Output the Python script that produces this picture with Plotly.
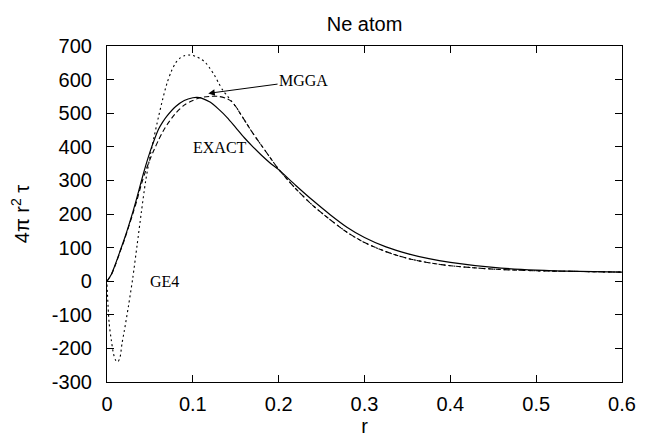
import plotly.graph_objects as go

# ---- data ----
r_exact = [0, 0.005, 0.01, 0.015, 0.02, 0.025, 0.03, 0.035, 0.04, 0.045, 0.05, 0.055,
           0.06, 0.065, 0.07, 0.08, 0.09, 0.1, 0.105, 0.11, 0.12, 0.13, 0.14, 0.15,
           0.16, 0.17, 0.18, 0.19, 0.2, 0.22, 0.24, 0.26, 0.28, 0.3, 0.325, 0.35,
           0.375, 0.4, 0.45, 0.5, 0.55, 0.6]
exact = [0, 20, 52, 88, 124, 163, 205, 250, 298, 343, 384, 420,
         452, 474, 492, 520, 538, 546, 547, 545, 533, 512, 487, 457,
         427, 400, 375, 352, 332, 285, 240, 198, 160, 130, 102, 82,
         67, 56, 41, 33, 29, 27]

r_mgga = [0, 0.005, 0.01, 0.015, 0.02, 0.025, 0.03, 0.035, 0.04, 0.045, 0.05, 0.055,
          0.06, 0.065, 0.07, 0.08, 0.09, 0.1, 0.11, 0.12, 0.13, 0.14, 0.145, 0.15,
          0.155, 0.16, 0.17, 0.18, 0.19, 0.2, 0.22, 0.24, 0.26, 0.28, 0.3, 0.325,
          0.35, 0.375, 0.4, 0.45, 0.5, 0.55, 0.6]
mgga = [0, 19, 50, 86, 121, 160, 200, 242, 288, 328, 362, 392,
        420, 445, 466, 500, 524, 538, 547, 550, 550, 543, 535, 520,
        500, 480, 440, 404, 368, 333, 275, 225, 183, 145, 115, 88,
        68, 55, 46, 36, 31, 29, 27]

r_ge4 = [0, 0.0025, 0.005, 0.0075, 0.01, 0.0125, 0.015, 0.0175, 0.02, 0.025, 0.03,
         0.035, 0.04, 0.045, 0.05, 0.055, 0.06, 0.065, 0.07, 0.075, 0.08, 0.085,
         0.09, 0.095, 0.1, 0.105, 0.11, 0.115, 0.12, 0.125, 0.13, 0.135, 0.14,
         0.145, 0.15, 0.155, 0.16, 0.17, 0.18, 0.19, 0.2, 0.22, 0.24, 0.26, 0.28,
         0.3, 0.325, 0.35, 0.375, 0.4, 0.45, 0.5, 0.55, 0.6]
ge4 = [-10, -125, -175, -215, -235, -240, -228, -185, -150, -74, 9,
       106, 205, 298, 370, 431, 489, 543, 590, 625, 650, 664,
       671, 673, 672, 667, 660, 650, 633, 614, 590, 568, 552,
       536, 520, 500, 480, 440, 404, 368, 333, 275, 225, 183, 145,
       115, 88, 68, 55, 46, 36, 31, 29, 27]

x_ticks = [0, 0.1, 0.2, 0.3, 0.4, 0.5, 0.6]
x_ticktext = ["0", "0.1", "0.2", "0.3", "0.4", "0.5", "0.6"]
y_ticks = [-300, -200, -100, 0, 100, 200, 300, 400, 500, 600, 700]
y_ticktext = ["-300", "-200", "-100", "0", "100", "200", "300", "400", "500", "600", "700"]

fig = go.Figure()
fig.add_trace(go.Scatter(x=r_exact, y=exact, mode="lines", name="EXACT",
                         line=dict(color="black", width=1.2, shape="spline", smoothing=0.8)))
fig.add_trace(go.Scatter(x=r_mgga, y=mgga, mode="lines", name="MGGA",
                         line=dict(color="black", width=1.1, dash="5px,3px", shape="spline", smoothing=0.8)))
fig.add_trace(go.Scatter(x=r_ge4, y=ge4, mode="lines", name="GE4",
                         line=dict(color="black", width=1.1, dash="2px,3px", shape="spline", smoothing=0.8)))

sans = "Liberation Sans, Arial, sans-serif"
serif = "Liberation Serif, Times New Roman, serif"

axis_common = dict(ticks="inside", ticklen=7, tickwidth=1, tickcolor="black",
                   showline=True, linecolor="black", linewidth=1.2, mirror="ticks",
                   showgrid=False, zeroline=False, automargin=False,
                   tickfont=dict(family=sans, size=20, color="black"))

fig.update_layout(
    width=652, height=443,
    margin=dict(l=107, r=30, t=46, b=61),
    paper_bgcolor="white", plot_bgcolor="white",
    showlegend=False,
    title=dict(text="Ne atom", x=0.5, xref="paper", xanchor="center",
               y=1 - 24 / 443, yref="container", yanchor="middle",
               font=dict(family=sans, size=20, color="black")),
    xaxis=dict(range=[0, 0.6], tickvals=x_ticks, ticktext=x_ticktext,
               ticklabelstandoff=4,
               title=dict(text="r", font=dict(family=sans, size=20, color="black"), standoff=2),
               **axis_common),
    yaxis=dict(range=[-300, 700], tickvals=y_ticks, ticktext=y_ticktext,
               ticklabelstandoff=10,
               title=dict(text="4\u03c0 r<sup>2</sup> \u03c4", font=dict(family=sans, size=20, color="black"), standoff=16),
               **axis_common),
)

fig.add_annotation(x=0.118, y=559, ax=0.229, ay=597, axref="x", ayref="y",
                   text="MGGA", showarrow=True, arrowhead=2, arrowsize=1.3,
                   arrowwidth=1, arrowcolor="black",
                   font=dict(family=serif, size=16, color="black"))
fig.add_annotation(x=0.1313, y=398, text="EXACT", showarrow=False,
                   font=dict(family=serif, size=16, color="black"))
fig.add_annotation(x=0.0666, y=-2, text="GE4", showarrow=False,
                   font=dict(family=serif, size=16, color="black"))

fig.write_html("out.html")
